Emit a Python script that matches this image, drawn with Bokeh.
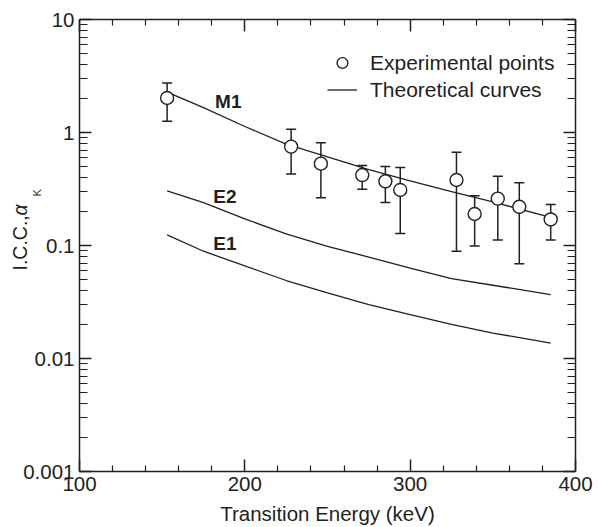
from bokeh.plotting import figure
from bokeh.models import (ColumnDataSource, Whisker, TeeHead, FixedTicker, LinearAxis, LogAxis,
                          CustomJSTickFormatter, Title, Legend, LegendItem, GridBox)
from bokeh.embed import file_html
from bokeh.resources import INLINE
from bokeh.core.properties import value

# ---------------- data ----------------
exp_energy = [153, 228, 246, 271, 285, 294, 328, 339, 353, 366, 385]
exp_icc = [2.02, 0.75, 0.53, 0.42, 0.37, 0.31, 0.38, 0.19, 0.26, 0.22, 0.17]
exp_upper = [2.74, 1.07, 0.81, 0.51, 0.50, 0.49, 0.67, 0.275, 0.41, 0.36, 0.23]
exp_lower = [1.26, 0.43, 0.264, 0.315, 0.24, 0.128, 0.089, 0.099, 0.112, 0.069, 0.112]

theory_energy = [153, 175, 200, 225, 250, 275, 300, 325, 350, 385]
theory_m1 = [2.28, 1.66, 1.13, 0.79, 0.61, 0.47, 0.374, 0.30, 0.243, 0.177]
theory_e2 = [0.305, 0.24, 0.172, 0.127, 0.098, 0.079, 0.063, 0.051, 0.0445, 0.0368]
theory_e1 = [0.124, 0.089, 0.066, 0.049, 0.038, 0.030, 0.0245, 0.0200, 0.0168, 0.0137]

curve_names = ["M1", "E2", "E1"]
curve_label_energy = [190, 188, 188]
curve_label_icc = [1.9, 0.27, 0.105]

x_ticks = [100, 200, 300, 400]
x_minor_ticks = [120, 140, 160, 180, 220, 240, 260, 280, 320, 340, 360, 380]
y_ticks = [0.001, 0.01, 0.1, 1, 10]
y_tick_labels = ["0.001", "0.01", "0.1", "1", "10"]
y_minor_ticks = [m * 10.0 ** e for e in range(-3, 1) for m in range(2, 10)]

x_label = "Transition Energy (keV)"
y_label_parts = ["I.C.C.,", "α", "K"]
legend_labels = ["Experimental points", "Theoretical curves"]

INK = "#231f20"
FONT = "Liberation Sans"
W, H = 598, 527

p = figure(width=W, height=H, x_range=(100, 400), y_range=(0.001, 10),
           y_axis_type="log", output_backend="svg", toolbar_location=None,
           min_border_left=79, min_border_right=23, min_border_top=19, min_border_bottom=55)
p.grid.visible = False
p.outline_line_color = None
p.background_fill_color = "white"
p.border_fill_color = "white"

# curves
lines = []
for ys in (theory_m1, theory_e2, theory_e1):
    lines.append(p.line(theory_energy, ys, line_color=INK, line_width=1.3))

# error bars below the markers
src = ColumnDataSource(dict(x=exp_energy, y=exp_icc, upper=exp_upper, lower=exp_lower))
wh = Whisker(base="x", upper="upper", lower="lower", source=src, dimension="height",
             line_color=INK, line_width=1.5, level="underlay",
             upper_head=TeeHead(size=10, line_color=INK, line_width=1.5),
             lower_head=TeeHead(size=10, line_color=INK, line_width=1.5))
p.add_layout(wh)
pts = p.scatter("x", "y", source=src, marker="circle", size=13, fill_color="white",
                line_color=INK, line_width=1.4)

# curve name labels
p.text(curve_label_energy, curve_label_icc, text=curve_names, text_font=value(FONT),
       text_font_style="bold", text_font_size=value("19px"), text_color=INK,
       text_align="center", text_baseline="middle")

# axes styling
def style_axis(ax, minor_len):
    ax.axis_line_color = INK
    ax.axis_line_width = 1.5
    ax.major_tick_line_color = INK
    ax.minor_tick_line_color = INK
    ax.major_tick_line_width = 1.5
    ax.minor_tick_line_width = 1.2
    ax.major_tick_in = 12
    ax.major_tick_out = 0
    ax.minor_tick_in = minor_len
    ax.minor_tick_out = 0
    ax.major_label_text_font = FONT
    ax.major_label_text_font_size = "20.5px"
    ax.major_label_text_color = INK

xt = FixedTicker(ticks=x_ticks, minor_ticks=x_minor_ticks)
yt = FixedTicker(ticks=y_ticks, minor_ticks=y_minor_ticks)
yfmt = CustomJSTickFormatter(args=dict(tvals=y_ticks, tlabels=y_tick_labels), code="""
const i = tvals.findIndex(t => Math.abs(Math.log10(t) - Math.log10(tick)) < 1e-6);
return i >= 0 ? tlabels[i] : '';
""")
blank = CustomJSTickFormatter(code="return '';")

xa = p.xaxis[0]
xa.ticker = xt
style_axis(xa, 6)
xa.major_label_standoff = 5
xa.axis_label = x_label
xa.axis_label_text_font = FONT
xa.axis_label_text_font_size = "20.5px"
xa.axis_label_text_font_style = "normal"
xa.axis_label_text_color = INK
xa.axis_label_standoff = 8

ya = p.yaxis[0]
ya.ticker = yt
ya.formatter = yfmt
style_axis(ya, 8)
ya.major_label_standoff = 5

top = LinearAxis(ticker=xt, formatter=blank, major_label_standoff=0)
style_axis(top, 6)
p.add_layout(top, "above")
right = LogAxis(ticker=yt, formatter=blank, major_label_standoff=0)
style_axis(right, 8)
p.add_layout(right, "right")

# legend
legend = Legend(items=[LegendItem(label=legend_labels[0], renderers=[pts]),
                       LegendItem(label=legend_labels[1], renderers=[lines[0]])],
                location=(248, 368), border_line_color=None, background_fill_alpha=0,
                padding=0, margin=0, spacing=0, glyph_width=30, glyph_height=27,
                label_height=27, label_standoff=13, label_text_font=FONT,
                label_text_font_size="21px", label_text_color=INK)
p.add_layout(legend)

# ---- transparent overlays (same grid cell) carrying the pieces of the y-axis title ----
# each overlay: a blank spacer panel next to the frame, then a vertical Title
def overlay_title(text, spacer, offset, size, style="normal"):
    o = figure(width=W, height=H, x_range=(0, 1), y_range=(0, 1), output_backend="svg",
               toolbar_location=None, x_axis_location=None, y_axis_location=None,
               min_border=0)
    o.outline_line_color = None
    o.background_fill_color = None
    o.border_fill_color = None
    o.grid.visible = False
    # spacer (a blank space character): panel width = 2 + line height (~1px) + standoff
    o.add_layout(Title(text=" ", text_font_size="1px", standoff=spacer - 3,
                       text_color=INK), "left")
    o.add_layout(Title(text=text, align="left", vertical_align="bottom", offset=offset,
                       standoff=0, text_font=FONT, text_font_size=size,
                       text_font_style=style, text_color=INK), "left")
    return o

ov_main = overlay_title(y_label_parts[0], 49, 201, "19.5px")
ov_alpha = overlay_title(y_label_parts[1], 49, 256, "19.5px", "italic")
ov_k = overlay_title(y_label_parts[2], 37, 275, "11px")

layout = GridBox(children=[(p, 0, 0), (ov_main, 0, 0), (ov_alpha, 0, 0), (ov_k, 0, 0)])

open("out.html", "w").write(file_html(layout, INLINE))
